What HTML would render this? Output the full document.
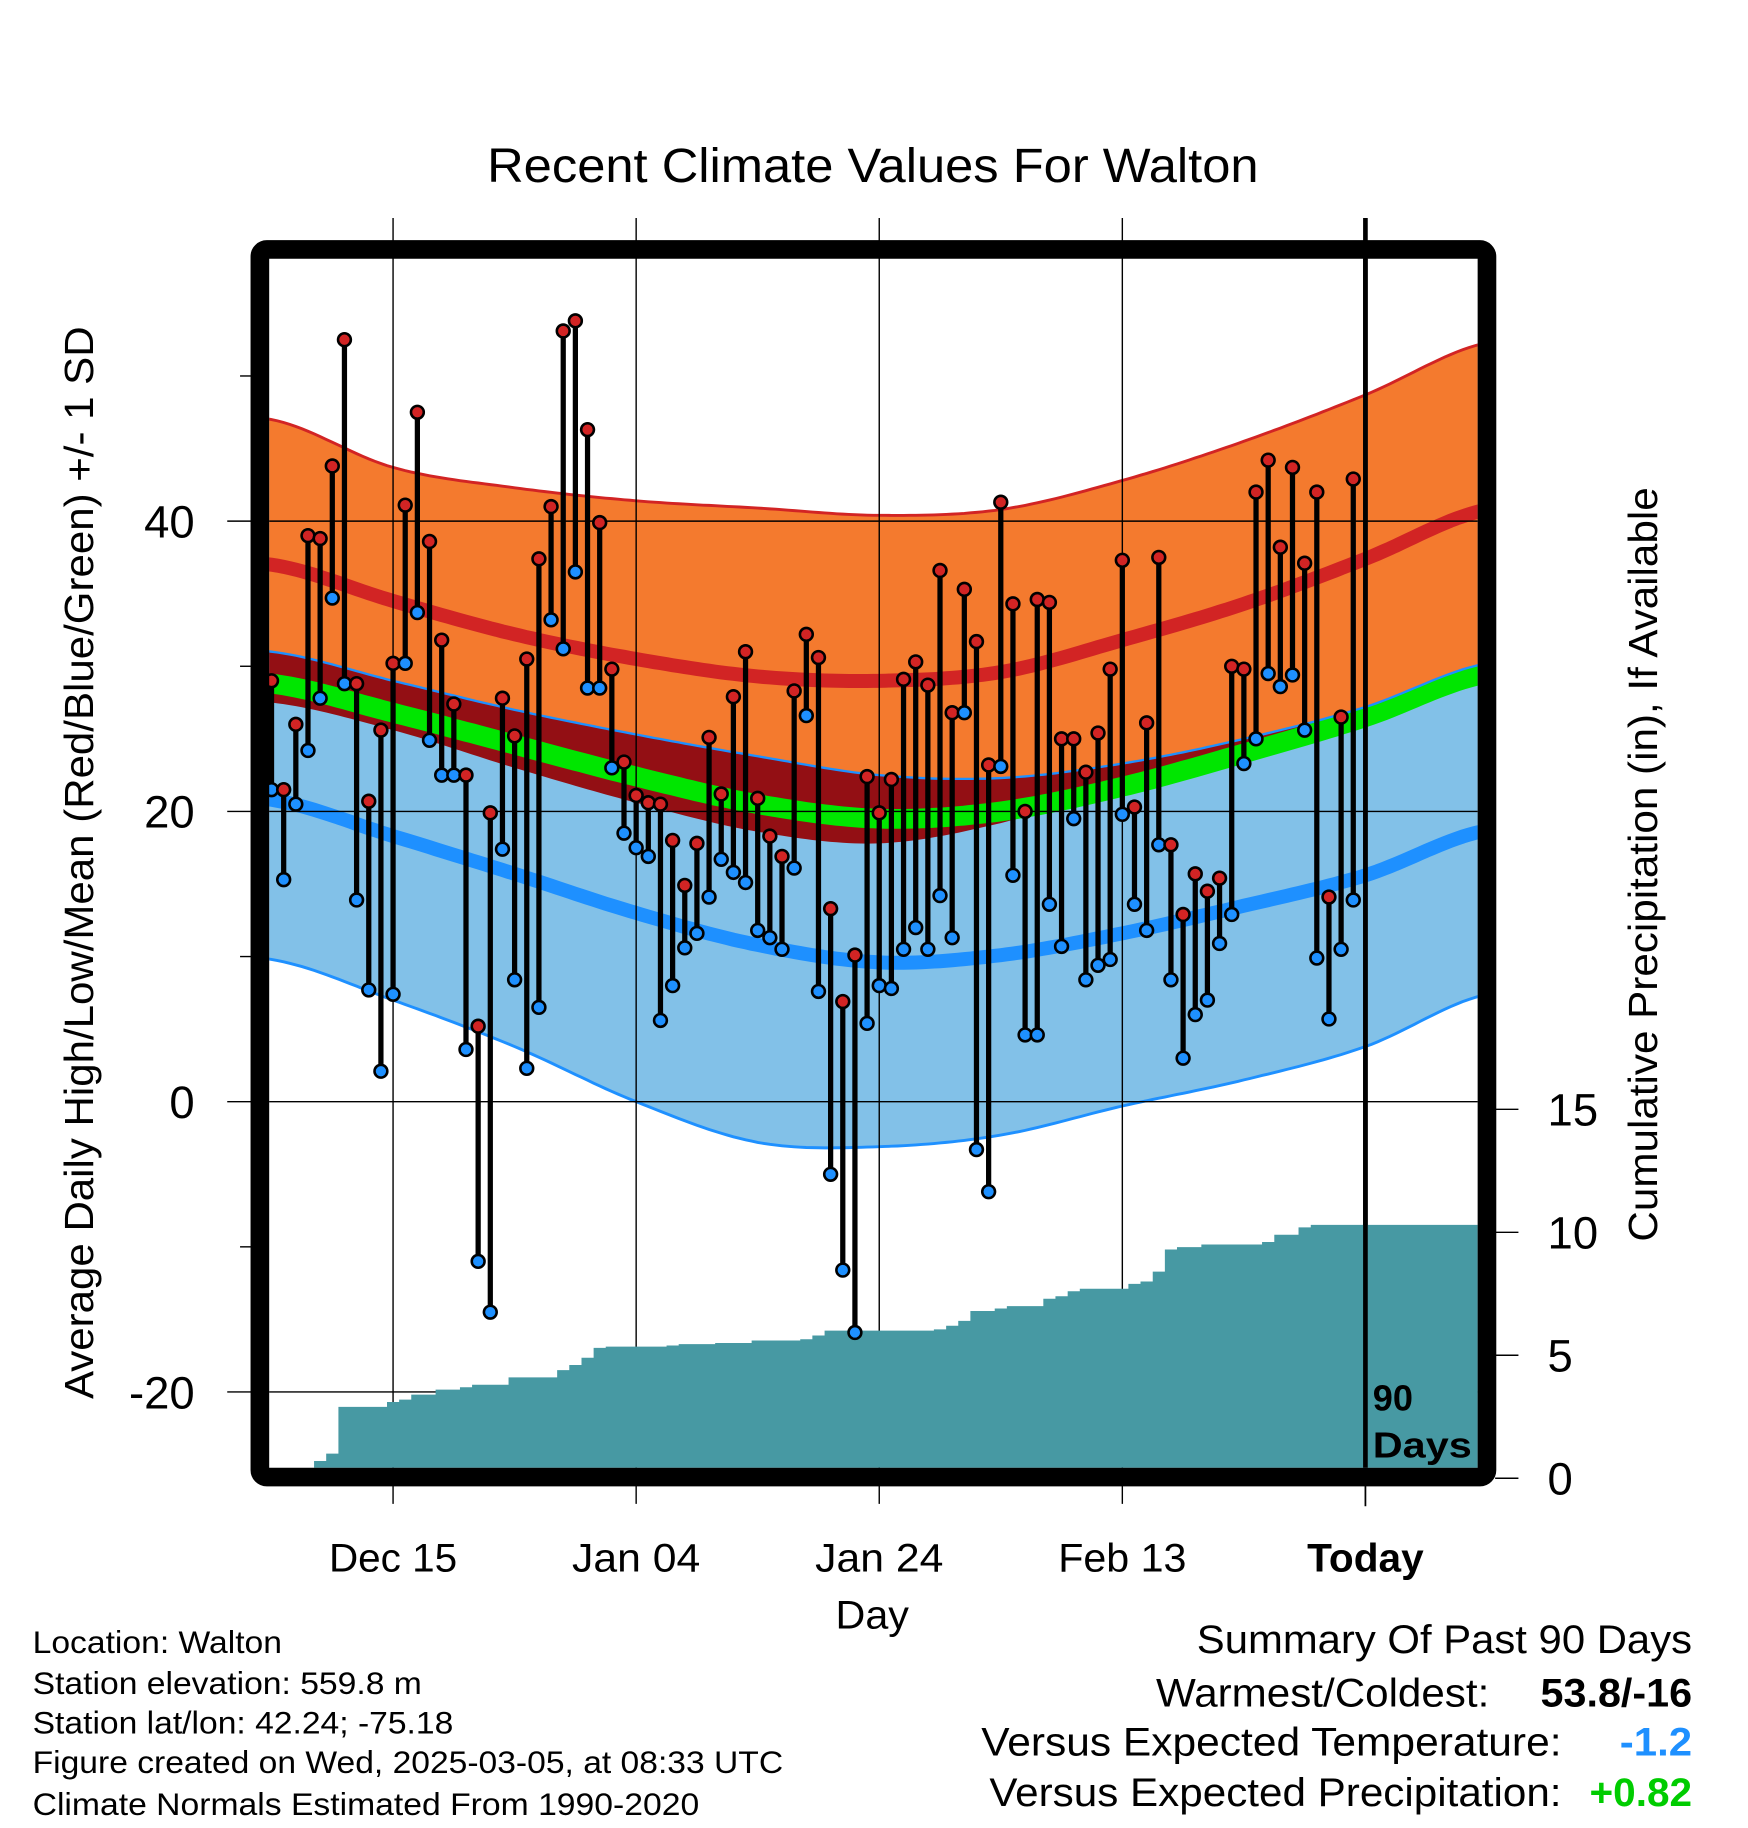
<!DOCTYPE html>
<html><head><meta charset="utf-8"><style>
html,body{margin:0;padding:0;background:#fff;}
svg{display:block;font-family:"Liberation Sans",Arial,sans-serif;}
</style></head><body>
<svg id="chart" width="1748" height="1828" viewBox="0 0 1500 1568" preserveAspectRatio="none" xmlns="http://www.w3.org/2000/svg">
<defs><clipPath id="plotclip"><rect x="231" y="222" width="1037" height="1037"/></clipPath></defs>
<text x="418" y="156" font-size="41" textLength="662" lengthAdjust="spacingAndGlyphs">Recent Climate Values For Walton</text>
<g id="bands" clip-path="url(#plotclip)"></g>
<g id="grid"></g>
<g id="precip" clip-path="url(#plotclip)"></g>
<g id="bars"></g>
<rect x="223" y="214" width="1053" height="1053" rx="6" fill="none" stroke="#000" stroke-width="16"/>
<g id="axes"></g>
<text transform="translate(80,1200) rotate(-90)" font-size="35" textLength="920" lengthAdjust="spacingAndGlyphs">Average Daily High/Low/Mean (Red/Blue/Green) +/- 1 SD</text>
<text transform="translate(1422,1065) rotate(-90)" font-size="35" textLength="647" lengthAdjust="spacingAndGlyphs">Cumulative Precipitation (in), If Available</text>
<text x="717" y="1397" font-size="34" textLength="63" lengthAdjust="spacingAndGlyphs">Day</text>
<text x="1178" y="1210" font-size="31" font-weight="bold">90</text>
<text x="1178" y="1250" font-size="31" font-weight="bold" textLength="85" lengthAdjust="spacingAndGlyphs">Days</text>
<g font-size="27">
<text x="28" y="1418" textLength="214" lengthAdjust="spacingAndGlyphs">Location: Walton</text>
<text x="28" y="1453" textLength="334" lengthAdjust="spacingAndGlyphs">Station elevation: 559.8 m</text>
<text x="28" y="1487" textLength="361" lengthAdjust="spacingAndGlyphs">Station lat/lon: 42.24; -75.18</text>
<text x="28" y="1521" textLength="644" lengthAdjust="spacingAndGlyphs">Figure created on Wed, 2025-03-05, at 08:33 UTC</text>
<text x="28" y="1557" textLength="572" lengthAdjust="spacingAndGlyphs">Climate Normals Estimated From 1990-2020</text>
</g>
<g font-size="34">
<text x="1027" y="1418" textLength="425" lengthAdjust="spacingAndGlyphs">Summary Of Past 90 Days</text>
<text x="992" y="1464" textLength="286" lengthAdjust="spacingAndGlyphs">Warmest/Coldest:</text>
<text x="1322" y="1464" font-weight="bold" textLength="130" lengthAdjust="spacingAndGlyphs">53.8/-16</text>
<text x="842" y="1506" textLength="498" lengthAdjust="spacingAndGlyphs">Versus Expected Temperature:</text>
<text x="1390" y="1506" font-weight="bold" fill="#1e90ff" textLength="62" lengthAdjust="spacingAndGlyphs">-1.2</text>
<text x="849" y="1549" textLength="491" lengthAdjust="spacingAndGlyphs">Versus Expected Precipitation:</text>
<text x="1364" y="1549" font-weight="bold" fill="#00cc00" textLength="88" lengthAdjust="spacingAndGlyphs">+0.82</text>
</g>
</svg>
<script>
const highs=[29,21.5,26,39,38.8,43.8,52.5,28.8,20.7,25.6,30.2,41.1,47.5,38.6,31.8,27.4,22.5,5.2,19.9,27.8,25.2,30.5,37.4,41.0,53.1,53.8,46.3,39.9,29.8,23.4,21.1,20.6,20.5,18.0,14.9,17.8,25.1,21.2,27.9,31.0,20.9,18.3,16.9,28.3,32.2,30.6,13.3,6.9,10.1,22.4,19.9,22.2,29.1,30.3,28.7,36.6,26.8,35.3,31.7,23.2,41.3,34.3,20.0,34.6,34.4,25.0,25.0,22.7,25.4,29.8,37.3,20.3,26.1,37.5,17.7,12.9,15.7,14.5,15.4,30.0,29.8,42.0,44.2,38.2,43.7,37.1,42.0,14.1,26.5,42.9];
const lows=[21.5,15.3,20.5,24.2,27.8,34.7,28.8,13.9,7.7,2.1,7.4,30.2,33.7,24.9,22.5,22.5,3.6,-11.0,-14.5,17.4,8.4,2.3,6.5,33.2,31.2,36.5,28.5,28.5,23.0,18.5,17.5,16.9,5.6,8.0,10.6,11.6,14.1,16.7,15.8,15.1,11.8,11.3,10.5,16.1,26.6,7.6,-5.0,-11.6,-15.9,5.4,8.0,7.8,10.5,12.0,10.5,14.2,11.3,26.8,-3.3,-6.2,23.1,15.6,4.6,4.6,13.6,10.7,19.5,8.4,9.4,9.8,19.8,13.6,11.8,17.7,8.4,3.0,6.0,7.0,10.9,12.9,23.3,25.0,29.5,28.6,29.4,25.6,9.9,5.7,10.5,13.9];
const precip=[0,0,0,0.2,0.7,1.0,2.9,2.9,2.9,2.9,3.1,3.2,3.4,3.4,3.6,3.6,3.7,3.8,3.8,3.8,4.1,4.1,4.1,4.1,4.4,4.6,4.9,5.3,5.35,5.35,5.35,5.35,5.35,5.4,5.45,5.45,5.45,5.5,5.5,5.5,5.6,5.6,5.6,5.6,5.65,5.8,6.0,6.0,6.0,6.0,6.0,6.0,6.0,6.0,6.0,6.05,6.2,6.4,6.8,6.8,6.9,7.0,7.0,7.0,7.3,7.4,7.6,7.7,7.7,7.7,7.7,7.9,8.0,8.4,9.3,9.4,9.4,9.5,9.5,9.5,9.5,9.5,9.6,9.9,9.9,10.2,10.3,10.3,10.3,10.3];
const normDays=[0,10,20,30,40,50,60,70,80,90,100];
const hiTop=[47,43.7,42.3,41.4,40.9,40.4,40.8,42.8,45.5,48.7,52.3];
const hiMean=[37,34.5,32.2,30.5,29.3,29,29.6,31.8,34.3,37.4,40.8];
const hiBot=[27.5,25.6,23.0,20.6,18.6,17.8,19.2,21.8,24.5,27.2,30.2];
const loTop=[31,29,27,25.3,23.8,22.5,22.3,23.3,25,27.2,30.2];
const avgMean=[28.8,26.8,24.6,22.4,20.5,19.5,20,21.7,24,26.5,29.5];
const loMean=[20.8,18.3,15.7,13,10.8,9.6,10.1,11.6,13.5,15.6,18.7];
const loBot=[9.8,7,3.8,0,-2.8,-3.1,-2.3,-0.3,1.5,3.8,7.4];
const tempTicks=[-20,0,20,40];
const tempMinor=[-10,10,30,50];
const precipTicks=[0,5,10,15];
const dateLabels=["Dec 15","Jan 04","Jan 24","Feb 13","Today"];
const dateOffsets=[10,30,50,70,90];

const NS="http://www.w3.org/2000/svg";
const X0=233, DX=10.43;
const xs=d=>X0+DX*d;
const yT=t=>945-12.45*t;
const yP=p=>1268-21.1*p;
function el(tag,attrs,parent){const e=document.createElementNS(NS,tag);for(const k in attrs)e.setAttribute(k,attrs[k]);parent.appendChild(e);return e;}
function interp(arr,d){
  let i=Math.min(Math.floor(d/10),arr.length-2);if(i<0)i=0;const t=(d-normDays[i])/10;
  const p0=arr[Math.max(i-1,0)],p1=arr[i],p2=arr[i+1],p3=arr[Math.min(i+2,arr.length-1)];
  return 0.5*((2*p1)+(-p0+p2)*t+(2*p0-5*p1+4*p2-p3)*t*t+(-p0+3*p1-3*p2+p3)*t*t*t);}
const samp=[];for(let d=-1;d<=100;d+=0.5)samp.push(d);
const line=arr=>samp.map(d=>xs(d).toFixed(1)+","+yT(interp(arr,d)).toFixed(1));
const band=(a,b)=>line(a).concat(line(b).reverse()).join(" ");
const bands=document.getElementById('bands');
let e;
e=el('polygon',{points:band(hiTop,hiBot),fill:'#f47a2e'},bands);

e=el('polygon',{points:band(loTop,loBot),fill:'#82c1e8'},bands);

const ov=samp.map(d=>[d,interp(loTop,d),Math.min(interp(hiBot,d),interp(loTop,d))]);
e=el('polygon',{points:ov.map(o=>xs(o[0]).toFixed(1)+","+yT(o[1]).toFixed(1)).concat(ov.slice().reverse().map(o=>xs(o[0]).toFixed(1)+","+yT(o[2]).toFixed(1))).join(" "),fill:'#930f14'},bands);

e=el('polyline',{points:line(avgMean).join(" "),fill:'none',stroke:'#00e600','stroke-width':17},bands);

e=el('polyline',{points:line(hiMean).join(" "),fill:'none',stroke:'#d22424','stroke-width':12},bands);

e=el('polyline',{points:line(loMean).join(" "),fill:'none',stroke:'#1e90ff','stroke-width':12},bands);

e=el('polyline',{points:line(hiTop).join(" "),fill:'none',stroke:'#d22424','stroke-width':2.5},bands);

e=el('polyline',{points:line(loTop).join(" "),fill:'none',stroke:'#1e90ff','stroke-width':2},bands);

e=el('polyline',{points:line(loBot).join(" "),fill:'none',stroke:'#1e90ff','stroke-width':2.5},bands);


const grid=document.getElementById('grid');
tempTicks.forEach(t=>{e=el('line',{x1:231,x2:1268,y1:yT(t),y2:yT(t),stroke:'#000','stroke-width':1.2},grid);
});
dateOffsets.forEach((d,i)=>{const last=i===dateOffsets.length-1;
e=el('line',{x1:xs(d),x2:xs(d),y1:187,y2:last?1259:1290,stroke:'#000','stroke-width':last?4:1.2},grid);
});

const pg=document.getElementById('precip');
let pts=[];pts.push(xs(-1)+","+yP(0));
precip.forEach((p,i)=>{pts.push(xs(i-0.5).toFixed(1)+","+yP(p).toFixed(1));pts.push(xs(i+0.5).toFixed(1)+","+yP(p).toFixed(1));});
pts.push("1270,"+yP(precip[precip.length-1]).toFixed(1));pts.push("1270,"+yP(0));
e=el('polygon',{points:pts.join(" "),fill:'#4799a3'},pg);

e=el('line',{x1:xs(90),x2:xs(90),y1:222,y2:1259,stroke:'#000','stroke-width':4},pg);

e=el('line',{x1:xs(90),x2:xs(90),y1:1270,y2:1292,stroke:'#000','stroke-width':1.5},grid);


const bars=document.getElementById('bars');
highs.forEach((h,i)=>{const x=xs(i);
  e=el('line',{x1:x,x2:x,y1:yT(h),y2:yT(lows[i]),stroke:'#000','stroke-width':4.5},bars);
  
  e=el('circle',{cx:x,cy:yT(lows[i]),r:5.5,fill:'#1e90ff',stroke:'#000','stroke-width':2.2},bars);
  
  e=el('circle',{cx:x,cy:yT(h),r:5.5,fill:'#d22424',stroke:'#000','stroke-width':2.2},bars);
  
});

const ax=document.getElementById('axes');
tempTicks.forEach(t=>{
  e=el('line',{x1:195,x2:216,y1:yT(t),y2:yT(t),stroke:'#000','stroke-width':1.2},ax);
  
  e=el('text',{x:167,y:yT(t)+14,'font-size':39,'text-anchor':'end'},ax);e.textContent=String(t);
  });
tempMinor.forEach(t=>{e=el('line',{x1:206,x2:216,y1:yT(t),y2:yT(t),stroke:'#000','stroke-width':1.2},ax);
  });
precipTicks.forEach(p=>{
  e=el('line',{x1:1283,x2:1303,y1:yP(p),y2:yP(p),stroke:'#000','stroke-width':1.2},ax);
  
  e=el('text',{x:1328,y:yP(p)+14,'font-size':39},ax);e.textContent=String(p);
  });
dateLabels.forEach((l,i)=>{const isT=l==='Today';
  e=el('text',{x:xs(dateOffsets[i]),y:1348,'font-size':34,'text-anchor':'middle','font-weight':isT?'bold':'normal',textLength:isT?100:110,lengthAdjust:'spacingAndGlyphs'},ax);e.textContent=l;
  });
</script>
</body></html>
